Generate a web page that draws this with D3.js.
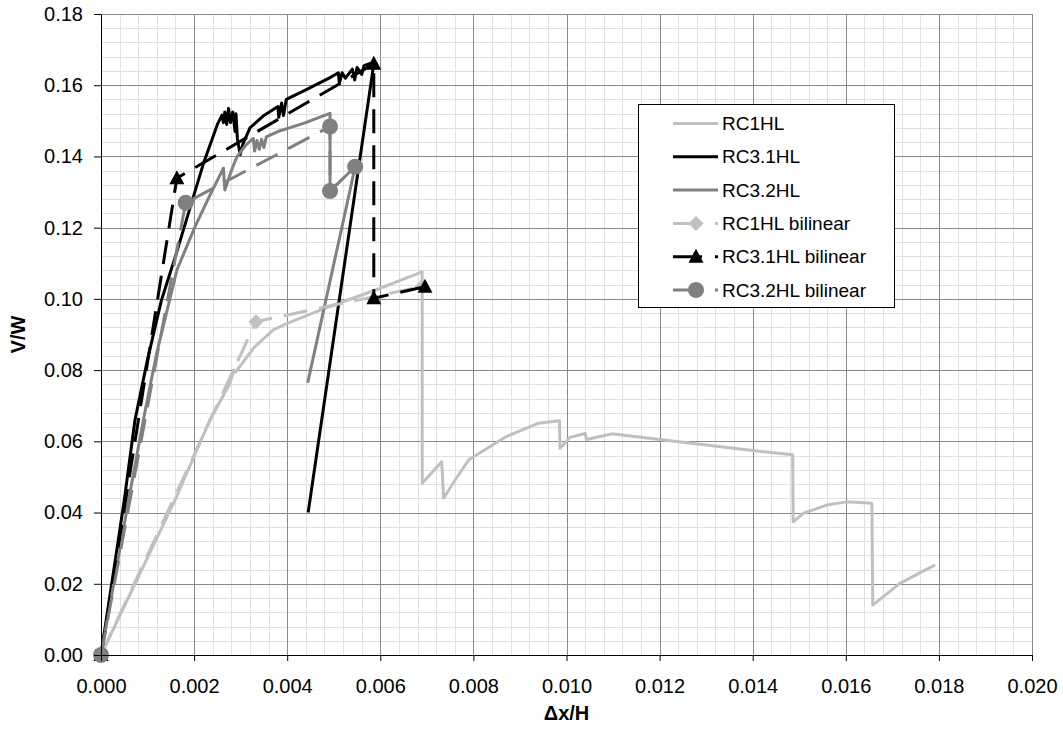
<!DOCTYPE html>
<html>
<head>
<meta charset="UTF-8">
<title>V/W</title>
<style>
  body{ margin:0; background:#fff; }
  text{ font-family: Arial, "Liberation Sans", sans-serif; }
</style>
</head>
<body>
<svg id="chart" width="1063" height="738"></svg>
<script src="https://cdn.jsdelivr.net/npm/d3@7/dist/d3.min.js"></script>
<script>
// values, [dx/H, V/W]
var rc1hl = [
  [0,0],[0.00159,0.0435],[0.00234,0.066],[0.00277,0.0763],[0.00285,0.0800],[0.00289,0.0794],
  [0.0033,0.0865],[0.0037,0.0913],[0.0040,0.0931],[0.0049,0.0978],[0.0059,0.1025],[0.0069,0.1076],
  [0.0069,0.0482],[0.00732,0.0543],[0.00736,0.0440],[0.0076,0.0490],[0.0079,0.0548],[0.0087,0.0613],
  [0.0094,0.0651],[0.00985,0.0658],[0.00986,0.0580],[0.01007,0.0611],[0.0104,0.0622],[0.01043,0.0605],
  [0.01097,0.0621],[0.0120,0.0605],[0.0140,0.0574],[0.01486,0.0562],[0.01487,0.0374],[0.01509,0.0398],
  [0.01559,0.0421],[0.01602,0.0430],[0.01656,0.0426],[0.01658,0.0140],[0.01716,0.0201],[0.01792,0.0253]
];
var rc31hl = [
  [0,0],[0.0005,0.0435],[0.00073,0.066],[0.0010,0.083],[0.0013,0.0997],[0.0016,0.112],[0.0019,0.125],
  [0.0022,0.138],[0.0025,0.149],[0.0026,0.1516],[0.00263,0.1495],[0.00266,0.1525],[0.0027,0.1490],
  [0.00274,0.1535],[0.00278,0.1495],[0.00283,0.1525],[0.00288,0.1470],[0.0029,0.1520],[0.00293,0.1450],
  [0.00299,0.1405],[0.00305,0.1435],[0.0032,0.1480],[0.0035,0.1515],[0.0038,0.1540],[0.00382,0.1510],
  [0.00388,0.1550],[0.00392,0.1515],[0.00398,0.1560],[0.0044,0.1587],[0.0049,0.1620],[0.0051,0.1635],
  [0.00512,0.1605],[0.00518,0.1635],[0.00525,0.1620],[0.0054,0.1645],[0.00545,0.1615],[0.0055,0.1650],
  [0.0056,0.1630],[0.00565,0.1655],[0.0058,0.1662],[0.00586,0.1660],[0.00445,0.0400]
];
var rc32hl = [
  [0,0],[0.0003,0.022],[0.0006,0.044],[0.00091,0.066],[0.0012,0.085],[0.00163,0.1081],[0.00202,0.1203],
  [0.0023,0.128],[0.00263,0.1367],[0.00266,0.1306],[0.0028,0.1360],[0.00292,0.1399],[0.0031,0.1430],
  [0.00327,0.1451],[0.0033,0.1415],[0.00335,0.1445],[0.0034,0.1420],[0.00345,0.1448],[0.0035,0.1425],
  [0.00355,0.1455],[0.0038,0.1470],[0.00435,0.1493],[0.00492,0.1521],[0.00492,0.1303],[0.00546,0.1371],
  [0.00444,0.0764]
];
var rc1hlBil = [[0,0],[0.00333,0.0936],[0.0069,0.1035]];
var rc31hlBil = [[0,0],[0.00163,0.1339],[0.00586,0.1660],[0.00586,0.1002],[0.00696,0.1034]];
var rc32hlBil = [[0,0],[0.00182,0.1270],[0.00492,0.1484],[0.00492,0.1303],[0.00546,0.1371]];

var seriesNames = ["RC1HL","RC3.1HL","RC3.2HL","RC1HL bilinear","RC3.1HL bilinear","RC3.2HL bilinear"];
var xTicks = [0,0.002,0.004,0.006,0.008,0.010,0.012,0.014,0.016,0.018,0.020];
var yTicks = [0,0.02,0.04,0.06,0.08,0.10,0.12,0.14,0.16,0.18];

var series = [
  {name: seriesNames[0], data: rc1hl,     color: "#c0c0c0", dash: null,    marker: null},
  {name: seriesNames[1], data: rc31hl,    color: "#000000", dash: null,    marker: null},
  {name: seriesNames[2], data: rc32hl,    color: "#808080", dash: null,    marker: null},
  {name: seriesNames[3], data: rc1hlBil,  color: "#c0c0c0", dash: "24,12", marker: "diamond"},
  {name: seriesNames[4], data: rc31hlBil, color: "#000000", dash: "24,12", marker: "triangle"},
  {name: seriesNames[5], data: rc32hlBil, color: "#808080", dash: "24,12", marker: "circle"}
];

var svg = d3.select("#chart");
var plotL = 101, plotR = 1032, plotT = 14, plotB = 655;

var x = d3.scaleLinear().domain([0, 0.02]).range([plotL, plotR]);
var y = d3.scaleLinear().domain([0, 0.18]).range([plotB, plotT]);

// grid
var minorX = d3.range(1, 50).map(function(i){ return i * 0.0004; }).filter(function(v, i){ return (i + 1) % 5 != 0; });
var minorY = d3.range(1, 45).map(function(i){ return i * 0.004; }).filter(function(v, i){ return (i + 1) % 5 != 0; });

var grid = svg.append("g");
grid.selectAll(".mx").data(minorX).enter().append("line")
  .attr("x1", function(d){ return Math.round(x(d)) + 0.5; }).attr("x2", function(d){ return Math.round(x(d)) + 0.5; })
  .attr("y1", plotT).attr("y2", plotB).attr("stroke", "#e0e0e0");
grid.selectAll(".my").data(minorY).enter().append("line")
  .attr("y1", function(d){ return Math.round(y(d)) + 0.5; }).attr("y2", function(d){ return Math.round(y(d)) + 0.5; })
  .attr("x1", plotL).attr("x2", plotR).attr("stroke", "#e0e0e0");
grid.selectAll(".Mx").data(xTicks.slice(1)).enter().append("line")
  .attr("x1", function(d){ return Math.round(x(d)) + 0.5; }).attr("x2", function(d){ return Math.round(x(d)) + 0.5; })
  .attr("y1", plotT).attr("y2", plotB).attr("stroke", "#8a8a8a");
grid.selectAll(".My").data(yTicks.slice(1)).enter().append("line")
  .attr("y1", function(d){ return Math.round(y(d)) + 0.5; }).attr("y2", function(d){ return Math.round(y(d)) + 0.5; })
  .attr("x1", plotL).attr("x2", plotR).attr("stroke", "#8a8a8a");

// markers
function markerPath(type){
  if (type == "triangle") return "M0,-8L7.5,6L-7.5,6Z";
  if (type == "diamond") return "M0,-7.5L7.5,0L0,7.5L-7.5,0Z";
  return d3.symbol().type(d3.symbolCircle).size(Math.PI * 64)();
}

var line = d3.line().x(function(d){ return x(d[0]); }).y(function(d){ return y(d[1]); });

series.forEach(function(s){
  var g = svg.append("g");
  g.append("path").datum(s.data)
    .attr("d", line)
    .attr("fill", "none")
    .attr("stroke", s.color)
    .attr("stroke-width", 3)
    .attr("stroke-linejoin", "round")
    .attr("stroke-dasharray", s.dash);
  if (s.marker) {
    g.selectAll(".m").data(s.data).enter().append("path")
      .attr("d", markerPath(s.marker))
      .attr("transform", function(d){ return "translate(" + x(d[0]) + "," + y(d[1]) + ")"; })
      .attr("fill", s.color);
  }
});

// axes
var xAxis = d3.axisBottom(x).tickValues(xTicks).tickFormat(d3.format(".3f"))
  .tickSize(6).tickSizeOuter(0).tickPadding(18);
var yAxis = d3.axisLeft(y).tickValues(yTicks).tickFormat(d3.format(".2f"))
  .tickSize(7).tickSizeOuter(0).tickPadding(11);

var gx = svg.append("g").attr("transform", "translate(0," + plotB + ")").call(xAxis);
var gy = svg.append("g").attr("transform", "translate(" + plotL + ",0)").call(yAxis);
[gx, gy].forEach(function(g){
  g.select(".domain").attr("stroke", "#000");
  g.selectAll(".tick line").attr("stroke", "#000");
  g.selectAll("text").attr("font-size", 20).attr("fill", "#000")
    .attr("font-family", "Arial, 'Liberation Sans', sans-serif");
});

svg.append("text").attr("x", (plotL + plotR) / 2).attr("y", 720)
  .attr("text-anchor", "middle").attr("font-size", 20).attr("font-weight", "bold")
  .text("Δx/H");
svg.append("text").attr("transform", "translate(25," + (plotT + plotB) / 2 + ") rotate(-90)")
  .attr("text-anchor", "middle").attr("font-size", 20).attr("font-weight", "bold")
  .text("V/W");

// legend
var lg = svg.append("g");
lg.append("rect").attr("x", 638.5).attr("y", 104.5).attr("width", 256).attr("height", 203)
  .attr("fill", "#fff").attr("stroke", "#000");
series.forEach(function(s, i){
  var ly = 123.5 + i * 33.3;
  lg.append("line").attr("x1", 673).attr("x2", 718).attr("y1", ly).attr("y2", ly)
    .attr("stroke", s.color).attr("stroke-width", 3)
    .attr("stroke-dasharray", s.dash ? "29,13" : null);
  if (s.marker) {
    lg.append("path").attr("d", markerPath(s.marker))
      .attr("transform", "translate(696," + ly + ")").attr("fill", s.color);
  }
  lg.append("text").attr("x", 722).attr("y", ly).attr("dy", "0.35em")
    .attr("font-size", 19).text(s.name);
});
</script>
</body>
</html>
